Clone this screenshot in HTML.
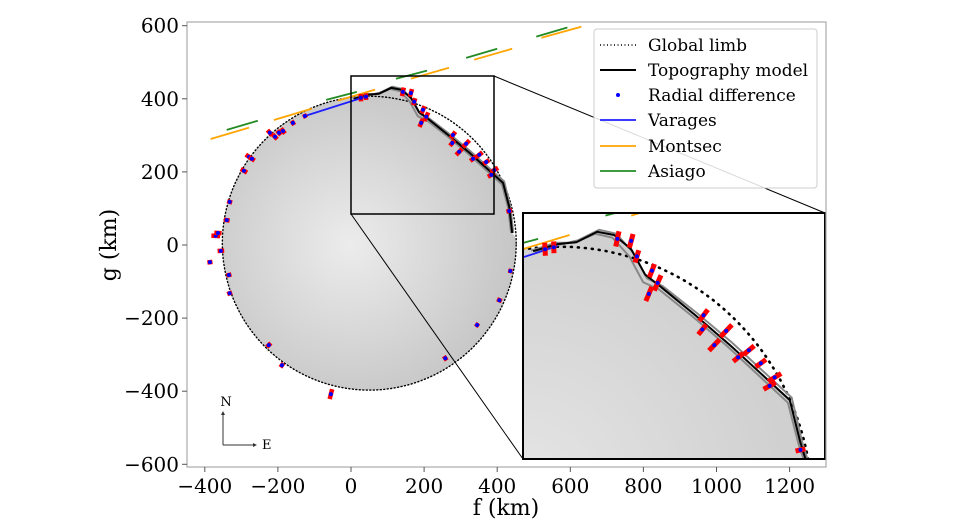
<!DOCTYPE html>
<html><head><meta charset="utf-8">
<style>
html,body{margin:0;background:#fff;overflow:hidden;width:960px;height:530px;}
#wrap{position:relative;width:960px;height:530px;overflow:hidden;}
svg{display:block;font-family:"DejaVu Serif","Liberation Serif",serif;position:absolute;left:0;top:0;}
</style></head>
<body>
<div id="wrap">
<svg id="chart" width="960" height="530" viewBox="0 0 960 530">
<defs>
<radialGradient id="gMain" gradientUnits="userSpaceOnUse" cx="350" cy="245" r="165">
<stop offset="0" stop-color="#ececec"/><stop offset="1" stop-color="#c6c6c6"/></radialGradient>
<radialGradient id="gInset" gradientUnits="userSpaceOnUse" cx="520" cy="500" r="420">
<stop offset="0" stop-color="#e6e6e6"/><stop offset="1" stop-color="#c4c4c4"/></radialGradient>
<clipPath id="clipMain"><rect x="187" y="22" width="639" height="445"/></clipPath>
<clipPath id="clipInset"><rect x="523" y="213" width="302" height="246"/></clipPath>
</defs>
<g id="mainG" clip-path="url(#clipMain)"></g>
<rect x="523" y="213" width="302" height="246" fill="#fff"/>
<g id="insetG" clip-path="url(#clipInset)"></g>
<g id="axesG"></g>
</svg>
<svg width="960" height="530" font-family="DejaVu Serif, Liberation Serif, serif">
<text x="506" y="515" font-size="22" text-anchor="middle">f (km)</text>
<text transform="translate(116,245) rotate(-90)" font-size="22" text-anchor="middle">g (km)</text>
<g>
<line x1="223" y1="445" x2="223" y2="412" stroke="#333"/><path d="M221,415 L223,411 L225,415Z" fill="#333"/>
<line x1="223" y1="445" x2="256" y2="445" stroke="#333"/><path d="M253,443 L257,445 L253,447Z" fill="#333"/>
<text x="226" y="406" font-size="13" text-anchor="middle">N</text>
<text x="262" y="449" font-size="13">E</text>
</g>
<g font-size="17">
<rect x="594" y="29" width="223" height="159" rx="3" fill="#fff" fill-opacity="0.85" stroke="#ccc"/>
<g><line x1="600" y1="45" x2="636" y2="45" stroke="#000" stroke-width="1.6" stroke-dasharray="1 2.5"/><text x="648" y="51">Global limb</text></g>
<g><line x1="600" y1="70" x2="636" y2="70" stroke="#000" stroke-width="2"/><text x="648" y="76">Topography model</text></g>
<g><circle cx="618" cy="95" r="2" fill="#00f"/><text x="648" y="101">Radial difference</text></g>
<g><line x1="600" y1="120" x2="636" y2="120" stroke="#1f1fff" stroke-width="1.8"/><text x="648" y="126">Varages</text></g>
<g><line x1="600" y1="146" x2="636" y2="146" stroke="#ffa500" stroke-width="1.8"/><text x="648" y="152">Montsec</text></g>
<g><line x1="600" y1="171" x2="636" y2="171" stroke="#228b22" stroke-width="1.8"/><text x="648" y="177">Asiago</text></g>
</g>
</svg>
</div>
<script>
// ---- data (km) ----
const limbCenter=[50,5];
const limbRadius=[402];
const topoF=[8,47,77,110,137,164,186,211,266,321,416,433,441];
const topoG=[400,411,414,430,425,403,364,345,301,255,170,104,33];
const gray1G=[399,410,417,433,427,398,358,346,304,259,174,104,33];
const gray2G=[401,413,413,427,421,392,352,341,298,252,166,102,33];
const ptF=[-370,-364,-356,-340,-332,-293,-279,-271,-222,-208,-197,-186,-159,-126,27,41,142,164,173,197,206,192,279,277,315,296,334,351,370,392,384,433,-386,-334,-332,-225,-189,-55,258,345,406,436];
const ptG=[25,33,-16,68,118,203,241,236,307,296,307,312,334,353,403,406,419,416,392,370,351,334,301,279,277,255,236,247,227,205,192,93,-47,-82,-132,-274,-329,-408,-310,-219,-151,-71];
const ptErr=[24,20,18,16,14,20,22,18,20,18,16,18,14,12,20,18,24,22,20,22,26,24,22,20,26,24,20,22,20,24,22,16,14,14,14,16,14,28,14,12,14,12];
const varF=[[-126,47]];const varG=[[353,408]];
const monF=[[-384,-279],[-211,-107],[-36,66],[164,268],[337,441],[521,630]];
const monG=[[290,321],[342,373],[395,425],[455,485],[507,537],[567,597]];
const asiF=[[-340,-255],[-68,16],[123,208],[315,400],[507,592]];
const asiG=[[315,340],[397,419],[455,477],[512,537],[570,595]];
const xTicks=[-400,-200,0,200,400,600,800,1000,1200];
const yTicks=[600,400,200,0,-200,-400,-600];

const NS="http://www.w3.org/2000/svg";
const K=0.3655;
const mainX=f=>351+K*f, mainY=g=>245-K*g;
const F0=-8,F1=472,G0=459,G1=79;
const insX=f=>523+(f-F0)*302/(F1-F0), insY=g=>213+(G0-g)*246/(G0-G1);
function el(tag,attrs,parent){const e=document.createElementNS(NS,tag);for(const k in attrs)e.setAttribute(k,attrs[k]);parent.appendChild(e);return e;}

function shapePath(X,Y,ymax){
  const cx=limbCenter[0],cy=limbCenter[1],R=limbRadius[0];
  const cl=y=>Math.min(y,ymax);
  let d='';
  for(let i=0;i<topoF.length;i++)d+=(i?'L':'M')+X(topoF[i]).toFixed(1)+','+cl(Y(topoG[i])).toFixed(1);
  const a0=Math.atan2(topoG[topoG.length-1]-cy,topoF[topoF.length-1]-cx);
  const a1=Math.atan2(topoG[0]-cy,topoF[0]-cx)-2*Math.PI;
  for(let k=1;k<=120;k++){const a=a0+(a1-a0)*k/120;d+='L'+X(cx+R*Math.cos(a)).toFixed(1)+','+cl(Y(cy+R*Math.sin(a))).toFixed(1);}
  return d+'Z';
}
function draw(g,X,Y,grad,prefix,ymax){
  const sh=el('path',{d:shapePath(X,Y,ymax),fill:'url(#'+grad+')',stroke:'none'},g);
  
  
  let d='';const cx=limbCenter[0],cy=limbCenter[1],R=limbRadius[0];let pen=false;
  for(let k=0;k<=240;k++){const a=2*Math.PI*k/240;const px=X(cx+R*Math.cos(a)),py=Y(cy+R*Math.sin(a));
    if(py>ymax+5){pen=false;continue;}
    d+=(pen?'L':'M')+px.toFixed(1)+','+py.toFixed(1);pen=true;}
  const lm=el('path',{d:d,fill:'none',stroke:'#000','stroke-width':prefix?2.6:1.4,'stroke-dasharray':prefix?'1 6':'1 2.5','stroke-linecap':'round'},g);
  
  
  [gray1G,gray2G].forEach((arr,j)=>{
    let p='';for(let i=0;i<topoF.length;i++)p+=(i?'L':'M')+X(topoF[i]+(j?-3:3))+','+Math.min(Y(arr[i]),ymax);
    const gl=el('path',{d:p,fill:'none',stroke:'#888','stroke-width':2},g);
    
    
  });
  let p='';for(let i=0;i<topoF.length;i++)p+=(i?'L':'M')+X(topoF[i])+','+Math.min(Y(topoG[i]),ymax);
  const tl=el('path',{d:p,fill:'none',stroke:'#000','stroke-width':2},g);
  
  
  const chord=(Fs,Gs,col,name)=>{for(let i=0;i<Fs.length;i++){
    const c=el('line',{x1:X(Fs[i][0]),y1:Y(Gs[i][0]),x2:X(Fs[i][1]),y2:Y(Gs[i][1]),stroke:col,'stroke-width':1.8},g);
    
    }};
  chord(monF,monG,'#ffa500','montsec');
  chord(asiF,asiG,'#228b22','asiago');
  chord(varF,varG,'#1f1fff','varages');
  for(let i=0;i<ptF.length;i++){
    if(Y(ptG[i])>ymax+5)continue;
    const a=Math.atan2(ptG[i]-cy,ptF[i]-cx),h=ptErr[i]/2;
    const b=el('line',{x1:X(ptF[i]-h*Math.cos(a)),y1:Y(ptG[i]-h*Math.sin(a)),x2:X(ptF[i]+h*Math.cos(a)),y2:Y(ptG[i]+h*Math.sin(a)),stroke:'#ff0000','stroke-width':prefix?5:4.5},g);
    
    
    const c=el('circle',{cx:X(ptF[i]),cy:Y(ptG[i]),r:2,fill:'#0000ff'},g);
    
    
  }
}
draw(document.getElementById('mainG'),mainX,mainY,'gMain','',467);
draw(document.getElementById('insetG'),insX,insY,'gInset','inset-',459);

const ax=document.getElementById('axesG');
const zb=el('rect',{x:351,y:76,width:143,height:138,fill:'none',stroke:'#000','stroke-width':1.5},ax);


const c1=el('line',{x1:494,y1:76,x2:825,y2:213,stroke:'#000','stroke-width':1},ax);


const c2=el('line',{x1:351,y1:214,x2:523,y2:459,stroke:'#000','stroke-width':1},ax);


const ib=el('rect',{x:523,y:213,width:302,height:246,fill:'none',stroke:'#000','stroke-width':2},ax);


const fr=el('rect',{x:187,y:22,width:639,height:445,fill:'none',stroke:'#aaa','stroke-width':1.2},ax);


xTicks.forEach(v=>{const x=mainX(v);
  el('line',{x1:x,y1:467,x2:x,y2:472,stroke:'#555'},ax);
  const t=el('text',{x:x,y:493,'font-size':20,'text-anchor':'middle'},ax);t.textContent=String(v).replace('-','\u2212');
  
  });
yTicks.forEach(v=>{const y=mainY(v);
  el('line',{x1:182,y1:y,x2:187,y2:y,stroke:'#555'},ax);
  const t=el('text',{x:179,y:y+7,'font-size':20,'text-anchor':'end'},ax);t.textContent=String(v).replace('-','\u2212');
  
  });
</script>
</body></html>
